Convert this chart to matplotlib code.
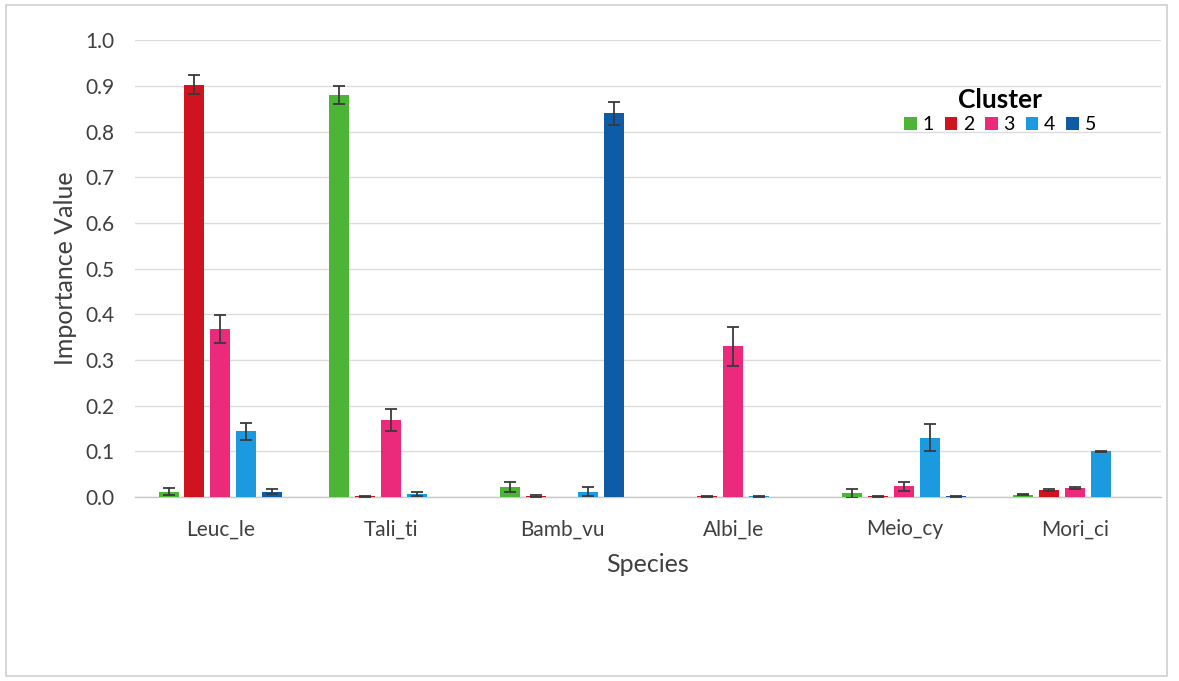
import numpy as np
import matplotlib.pyplot as plt
from matplotlib.patches import Rectangle, Patch

plt.rcParams['font.family'] = ['Lato', 'DejaVu Sans']

species = ['Leuc_le', 'Tali_ti', 'Bamb_vu', 'Albi_le', 'Meio_cy', 'Mori_ci']
clusters = ['1', '2', '3', '4', '5']

# mean importance value per cluster (one list per cluster, in species order)
means = {
    '1': [0.012, 0.880, 0.022, 0.000, 0.008, 0.005],
    '2': [0.903, 0.002, 0.003, 0.002, 0.002, 0.015],
    '3': [0.368, 0.168, 0.000, 0.330, 0.024, 0.020],
    '4': [0.144, 0.007, 0.012, 0.002, 0.130, 0.100],
    '5': [0.012, 0.000, 0.840, 0.000, 0.002, 0.000],
}
errors = {
    '1': [0.007, 0.020, 0.011, 0.000, 0.009, 0.001],
    '2': [0.020, 0.001, 0.002, 0.001, 0.001, 0.002],
    '3': [0.030, 0.024, 0.000, 0.042, 0.010, 0.002],
    '4': [0.018, 0.005, 0.010, 0.001, 0.029, 0.002],
    '5': [0.005, 0.000, 0.025, 0.000, 0.001, 0.000],
}
colors = ['#4cb535', '#d0141f', '#ec2a7c', '#1b9ae0', '#0e5ca8']

fig = plt.figure(figsize=(11.79, 6.81), dpi=100)
fig.patch.set_facecolor('white')
# thin frame around the whole chart area
fig.add_artist(Rectangle((0.005, 0.007), 0.985, 0.985, transform=fig.transFigure,
                         fill=False, edgecolor='#cfcfcf', lw=1.2))

ax = fig.add_axes([0.1145, 0.27, 0.87, 0.671])

x = np.arange(len(species))
stride = 0.152
width = 0.117
for i, c in enumerate(clusters):
    pos = x + (i - 2) * stride
    m = np.array(means[c])
    e = np.array(errors[c])
    ax.bar(pos, m, width=width, color=colors[i], zorder=3)
    # skip error bars on empty bars
    keep = (m > 0) & (e > 0)
    ax.errorbar(pos[keep], m[keep], yerr=e[keep], fmt='none', ecolor='#3a3a3a',
                elinewidth=1.3, capthick=1.3, capsize=4, zorder=4)

ax.set_xlim(-0.5, len(species) - 0.5)
ax.set_ylim(0, 1.0)
ax.set_yticks(np.arange(0, 1.01, 0.1))
ax.set_yticklabels([f'{v:.1f}' for v in np.arange(0, 1.01, 0.1)], fontsize=15, color='#404040')
ax.set_xticks(x)
ax.set_xticklabels(species, fontsize=15, color='#404040')
ax.tick_params(axis='x', length=0, pad=16)
ax.tick_params(axis='y', length=0, pad=15)

ax.grid(axis='y', color='#dcdcdc', lw=1.0, zorder=0)
for s in ['top', 'right', 'left']:
    ax.spines[s].set_visible(False)
ax.spines['bottom'].set_color('#c8c8c8')
ax.spines['bottom'].set_linewidth(1.0)

ax.set_ylabel('Importance Value', fontsize=18, color='#404040', labelpad=6)
ax.set_xlabel('Species', fontsize=18, color='#404040', labelpad=10)

handles = [Patch(facecolor=colors[i], label=c) for i, c in enumerate(clusters)]
leg = ax.legend(handles=handles, title='Cluster', ncol=5, loc='upper right',
                bbox_to_anchor=(0.95, 0.925), frameon=False, fontsize=14,
                handlelength=0.65, handleheight=0.65, handletextpad=0.3,
                columnspacing=0.55, borderpad=0.2, labelspacing=0.2,
                title_fontproperties={'weight': 'bold', 'size': 19})
leg._legend_box.sep = 3

fig.savefig('out.png', dpi=100)
